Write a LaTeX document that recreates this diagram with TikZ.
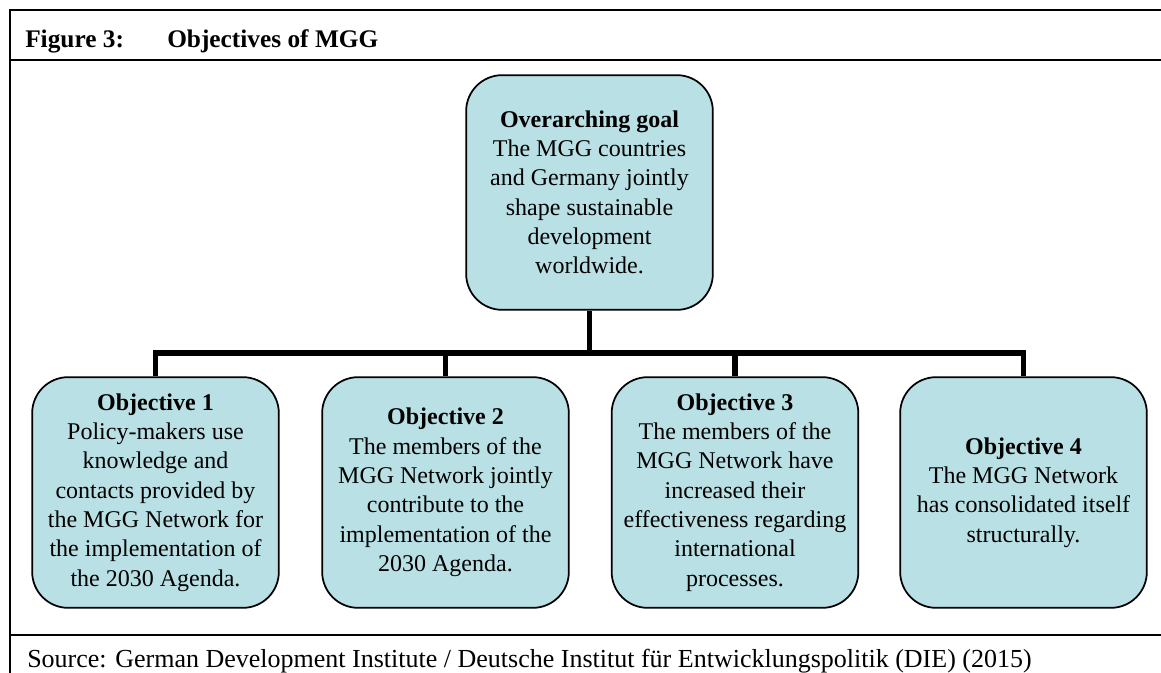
\documentclass[tikz,border=0pt]{standalone}
\usepackage{fontspec}
\setmainfont{Liberation Serif}
\definecolor{boxfill}{RGB}{185,224,228}
\begin{document}
\begin{tikzpicture}[x=0.75pt,y=-0.75pt,
  frameline/.style={line width=2.2pt},
  treebox/.style={draw, line width=1.3pt, fill=boxfill, rounded corners=27pt,
    minimum width=185pt, minimum height=173pt, inner sep=0pt, align=center,
    font=\fontsize{18}{22}\selectfont},
  link/.style={line width=4.3pt},
  titletext/.style={anchor=base west, inner sep=0pt, font=\fontsize{19}{22}\selectfont\bfseries},
  sourcetext/.style={anchor=base west, inner sep=0pt, font=\fontsize{19.5}{22}\selectfont}]
\useasboundingbox (0,0) rectangle (1161,672);
% frame
\coordinate (tl) at (10,10);
\coordinate (tr) at (1175,10);
\coordinate (bl) at (10,680);
\draw[frameline] (bl) -- (tl) -- (tr);
\coordinate (s1l) at (10,60);
\coordinate (s1r) at (1175,60);
\coordinate (s2l) at (10,635);
\coordinate (s2r) at (1175,635);
\draw[frameline] (s1l) -- (s1r);
\draw[frameline] (s2l) -- (s2r);
% title
\node[titletext] (fig) at (25,47) {Figure 3:};
\node[titletext] (ttl) at (167,47) {Objectives of MGG};
% boxes
\node[treebox, minimum height=176pt] (goal) at (589.5,192.5) {\textbf{Overarching goal}\\The MGG countries\\and Germany jointly\\shape sustainable\\development\\worldwide.};
\node[treebox] (o1) at (155.5,492.5) {\textbf{Objective 1}\\Policy-makers use\\knowledge and\\contacts provided by\\the MGG Network for\\the implementation of\\the 2030 Agenda.};
\node[treebox] (o2) at (445.5,492.5) {\textbf{Objective 2}\\The members of the\\MGG Network jointly\\contribute to the\\implementation of the\\2030 Agenda.};
\node[treebox] (o3) at (735,492.5) {\textbf{Objective 3}\\The members of the\\MGG Network have\\increased their\\effectiveness regarding\\international\\processes.};
\node[treebox] (o4) at (1023.5,492.5) {\textbf{Objective 4}\\The MGG Network\\has consolidated itself\\structurally.};
% connectors
\coordinate (bar) at (589.5,353);
\draw[link] (goal.south) -- (goal.south |- bar);
\draw[link] (o1.north) -- (o1.north |- bar) -- (o4.north |- bar) -- (o4.north);
\draw[link] (o2.north) -- (o2.north |- bar);
\draw[link] (o3.north) -- (o3.north |- bar);
% source
\node[sourcetext] (src) at (27,667) {Source: German Development Institute / Deutsche Institut für Entwicklungspolitik (DIE) (2015)};
\end{tikzpicture}
\end{document}
